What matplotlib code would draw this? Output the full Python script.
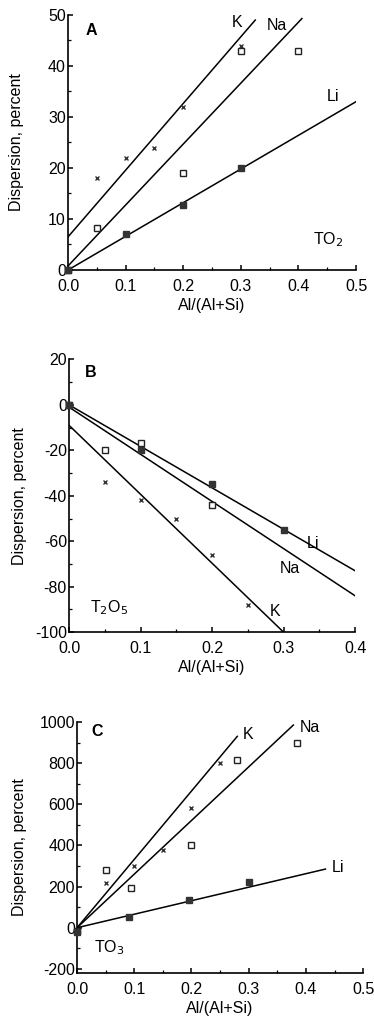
import numpy as np
import matplotlib.pyplot as plt
from matplotlib.ticker import MultipleLocator

plt.rcParams['font.family'] = ['Liberation Sans', 'DejaVu Sans']
plt.rcParams['axes.unicode_minus'] = False

# ---- panel A: TO2 ----
a_k_x = [0.05, 0.10, 0.15, 0.20, 0.30]
a_k_y = [18, 22, 24, 32, 44]
a_na_x = [0.0, 0.05, 0.20, 0.30, 0.40]
a_na_y = [0, 8.2, 19, 43, 43]
a_li_x = [0.0, 0.10, 0.20, 0.30]
a_li_y = [0, 7, 12.7, 20]
a_fit_k = [(0.0, 6.5), (0.325, 49)]
a_fit_na = [(0.0, 0.8), (0.406, 49.3)]
a_fit_li = [(0.0, 0.0), (0.50, 33)]

# ---- panel B: T2O5 ----
b_k_x = [0.05, 0.10, 0.15, 0.20, 0.25]
b_k_y = [-34, -42, -50, -66, -88]
b_na_x = [0.0, 0.05, 0.10, 0.20]
b_na_y = [0, -20, -17, -44]
b_li_x = [0.0, 0.10, 0.20, 0.30]
b_li_y = [0, -20, -35, -55]
b_fit_k = [(0.0, -9), (0.30, -100)]
b_fit_na = [(0.0, -1), (0.40, -84)]
b_fit_li = [(0.0, 0), (0.40, -73)]

# ---- panel C: TO3 ----
c_k_x = [0.05, 0.10, 0.15, 0.20, 0.25]
c_k_y = [215, 300, 380, 580, 800]
c_na_x = [0.0, 0.05, 0.095, 0.20, 0.28, 0.385]
c_na_y = [-15, 280, 195, 400, 815, 900]
c_li_x = [0.0, 0.09, 0.195, 0.30]
c_li_y = [-20, 50, 135, 220]
c_fit_k = [(0.0, 0), (0.28, 930)]
c_fit_na = [(0.0, 0), (0.378, 985)]
c_fit_li = [(0.0, 0), (0.434, 285)]

FS = 11.5


def panel(ax, k, na, li, fits, xlim, ylim, xmaj, ymaj, labels, ylpad):
    for (x0, y0), (x1, y1) in fits:
        ax.plot([x0, x1], [y0, y1], color='black', lw=1.1, zorder=2)
    ax.plot(k[0], k[1], 'x', color='#333333', ms=3.5, mew=1.0, zorder=3, clip_on=False)
    ax.plot(na[0], na[1], 's', mfc='white', mec='#222222', ms=5, mew=1.0, zorder=3, clip_on=False)
    ax.plot(li[0], li[1], 's', color='#333333', ms=5, zorder=4, clip_on=False)
    ax.set_xlim(*xlim)
    ax.set_ylim(*ylim)
    ax.xaxis.set_major_locator(MultipleLocator(xmaj))
    ax.xaxis.set_minor_locator(MultipleLocator(xmaj / 2))
    ax.yaxis.set_major_locator(MultipleLocator(ymaj))
    ax.yaxis.set_minor_locator(MultipleLocator(ymaj / 2))
    ax.xaxis.set_major_formatter(plt.FuncFormatter(lambda v, p: f'{v:.1f}'))
    ax.spines['top'].set_visible(False)
    ax.spines['right'].set_visible(False)
    for s in ('left', 'bottom'):
        ax.spines[s].set_linewidth(1.2)
    ax.tick_params(direction='in', length=3.5, width=1.1, labelsize=FS)
    ax.tick_params(axis='y', pad=1.5)
    ax.tick_params(axis='x', pad=6.5)
    ax.tick_params(which='minor', direction='in', length=2, width=0.9)
    ax.set_xlabel('Al/(Al+Si)', fontsize=FS, labelpad=3)
    ax.set_ylabel('Dispersion, percent', fontsize=FS, labelpad=ylpad)
    for x, y, s, kw in labels:
        ax.text(x, y, s, fontsize=FS, ha='left', va='center', **kw)


fig = plt.figure(figsize=(3.74, 10.18), dpi=100)

axA = fig.add_axes([0.182, 0.7348, 0.770, 0.2505])
panel(axA, (a_k_x, a_k_y), (a_na_x, a_na_y), (a_li_x, a_li_y),
      [a_fit_k, a_fit_na, a_fit_li], (0, 0.5), (0, 50), 0.1, 10,
      [(0.03, 47, 'A', {'fontweight': 'bold'}),
       (0.285, 48.5, 'K', {}), (0.345, 48, 'Na', {}),
       (0.45, 34, 'Li', {}), (0.425, 6, 'TO$_2$', {})], 17.5)
axA.set_yticks([0, 10, 20, 30, 40, 50])

axB = fig.add_axes([0.1845, 0.379, 0.765, 0.268])
panel(axB, (b_k_x, b_k_y), (b_na_x, b_na_y), (b_li_x, b_li_y),
      [b_fit_k, b_fit_na, b_fit_li], (0, 0.4), (-100, 20), 0.1, 20,
      [(0.022, 14, 'B', {'fontweight': 'bold'}),
       (0.333, -61, 'Li', {}), (0.295, -72, 'Na', {}),
       (0.28, -91, 'K', {}), (0.03, -89, 'T$_2$O$_5$', {})], 6)

axC = fig.add_axes([0.206, 0.0442, 0.765, 0.2466])
panel(axC, (c_k_x, c_k_y), (c_na_x, c_na_y), (c_li_x, c_li_y),
      [c_fit_k, c_fit_na, c_fit_li], (0, 0.5), (-220, 1000), 0.1, 200,
      [(0.025, 955, 'C', {'fontweight': 'bold'}),
       (0.29, 940, 'K', {}), (0.39, 975, 'Na', {}),
       (0.445, 295, 'Li', {}), (0.03, -95, 'TO$_3$', {})], 9)
axC.set_yticks([-200, 0, 200, 400, 600, 800, 1000])

fig.savefig('out.png', dpi=100)
